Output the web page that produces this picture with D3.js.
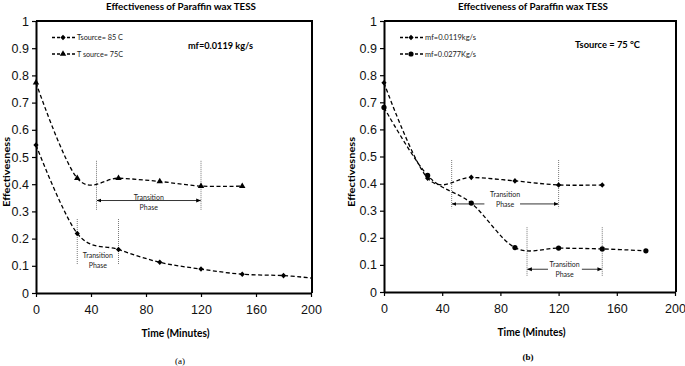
<!DOCTYPE html>
<html>
<head>
<meta charset="utf-8">
<script src="https://cdn.jsdelivr.net/npm/d3@7"></script>
<style>
  body { margin: 0; background: #fff; }
  svg { display: block; font-family: Lato, "Open Sans", sans-serif; }
</style>
</head>
<body>
<svg id="chart"></svg>
<script>
// ---- data ----
const xTicks = [0, 40, 80, 120, 160, 200];
const yTicks = [0, 0.1, 0.2, 0.3, 0.4, 0.5, 0.6, 0.7, 0.8, 0.9, 1];

// panel (a): mf = 0.0119 kg/s
const timeA85 = [0, 30, 60, 90, 120, 150, 180, 200];
const effA85 = [0.544, 0.219, 0.16, 0.113, 0.088, 0.069, 0.064, 0.055];
const timeA75 = [0, 30, 60, 90, 120, 150];
const effA75 = [0.773, 0.422, 0.422, 0.41, 0.393, 0.393];

// panel (b): Tsource = 75 °C
const timeB1 = [0, 30, 60, 90, 120, 150];
const effB1 = [0.772, 0.42, 0.423, 0.41, 0.395, 0.395];
const timeB2 = [0, 30, 60, 90, 120, 150, 180];
const effB2 = [0.681, 0.43, 0.328, 0.164, 0.162, 0.159, 0.152];

// transition phase annotations:
// [tStart, tEnd, yTop, yBottom, arrowY (or null), textY, gapStart, gapEnd]
const transA = [
    [44, 120, 0.486, 0.305, 0.34, 0.352, null, null],
    [30, 60, 0.272, 0.103, null, 0.137, null, null]
];
const transB = [
    [46.5, 120, 0.487, 0.309, 0.325, 0.358, 69, 93.5],
    [98.3, 150, 0.239, 0.059, 0.084, 0.102, 112.7, 136]
];

const svg = d3.select('#chart').attr('width', 685).attr('height', 366);
const root = svg.append('g').attr('opacity', 0.999);

const defs = svg.append('defs');
defs.append('marker')
    .attr('id', 'arrow-end')
    .attr('viewBox', '0 0 10 10')
    .attr('refX', 9).attr('refY', 5)
    .attr('markerWidth', 6).attr('markerHeight', 6)
    .attr('orient', 'auto')
    .append('path')
    .attr('d', 'M0,1L10,5L0,9Z')
    .attr('fill', '#000');

const curve = d3.curveCatmullRom.alpha(0);

function marker(g, shape, x, y) {
    if (shape === 'circle') {
        g.append('circle').attr('cx', x).attr('cy', y).attr('r', 2.6).attr('fill', '#000');
    } else if (shape === 'triangle') {
        g.append('path')
            .attr('transform', `translate(${x},${y})`)
            .attr('d', d3.symbol(d3.symbolTriangle, 18)())
            .attr('fill', '#000');
    } else {
        // small squat diamond like the Excel marker
        g.append('path')
            .attr('d', `M${x},${y - 2.8}L${x + 2.6},${y}L${x},${y + 2.8}L${x - 2.6},${y}Z`)
            .attr('fill', '#000');
    }
}

function arrowSeg(g, xa, xb, yy) {
    g.append('line')
        .attr('x1', xa).attr('x2', xb).attr('y1', yy).attr('y2', yy)
        .attr('stroke', '#000').attr('stroke-width', 0.8)
        .attr('marker-end', 'url(#arrow-end)');
}

function drawPanel(p) {
    const g = root.append('g');
    const x = d3.scaleLinear().domain([0, 200]).range([p.left, p.right]);
    const y = d3.scaleLinear().domain([0, 1]).range([p.bottom, p.top]);

    // frame top + right
    g.append('path')
        .attr('d', `M${p.left},${p.top}H${p.right + 1}V${p.bottom}`)
        .attr('fill', 'none').attr('stroke', '#000').attr('stroke-width', 2);

    const ax = g.append('g')
        .attr('transform', `translate(0,${p.bottom})`)
        .call(d3.axisBottom(x).tickValues(xTicks).tickSize(4).tickSizeOuter(0).tickPadding(8));
    const ay = g.append('g')
        .attr('transform', `translate(${p.left},0)`)
        .call(d3.axisLeft(y).tickValues(yTicks).tickSize(4).tickSizeOuter(0).tickPadding(3)
            .tickFormat(d => String(d)));
    [ax, ay].forEach(a => {
        a.select('.domain').attr('stroke-width', 2);
        a.selectAll('.tick line').attr('stroke-width', 1.2);
        a.selectAll('.tick text').attr('font-size', 12.5).attr('fill', '#111');
    });

    // transitions
    p.trans.forEach(([t0, t1, yTop, yBot, yArr, yTxt, g0, g1]) => {
        [t0, t1].forEach(t => {
            g.append('line')
                .attr('x1', x(t)).attr('x2', x(t))
                .attr('y1', y(yTop)).attr('y2', y(yBot))
                .attr('stroke', '#555').attr('stroke-width', 0.8)
                .attr('stroke-dasharray', '1,1');
        });
        if (yArr !== null) {
            const ya = y(yArr);
            const mid = (x(t0) + x(t1)) / 2;
            arrowSeg(g, g0 === null ? mid : x(g0), x(t0) + 0.5, ya);
            arrowSeg(g, g1 === null ? mid : x(g1), x(t1) - 0.5, ya);
        }
        const cx = (x(t0) + x(t1)) / 2;
        const ty = y(yTxt);
        const tg = g.append('g').attr('font-size', 7).attr('text-anchor', 'middle').attr('fill', '#222');
        tg.append('text').attr('x', cx).attr('y', ty + 2.5).text('Transition');
        tg.append('text').attr('x', cx).attr('y', ty + 12.5).text('Phase');
    });

    // series
    p.series.forEach(s => {
        const pts = s.time.map((t, i) => [x(t), y(s.eff[i])]);
        g.append('path')
            .attr('d', d3.line().curve(curve)(pts))
            .attr('fill', 'none').attr('stroke', '#000')
            .attr('stroke-width', 1.3).attr('stroke-dasharray', '4,2.5');
        pts.forEach((pt, i) => {
            if (s.time[i] <= s.lastMarker) marker(g, s.shape, pt[0], pt[1]);
        });
    });

    // legend
    p.series.forEach((s, i) => {
        const ly = p.legY + i * 16.5;
        g.append('line')
            .attr('x1', p.legX).attr('x2', p.legX + 23)
            .attr('y1', ly).attr('y2', ly)
            .attr('stroke', '#000').attr('stroke-width', 1.3).attr('stroke-dasharray', '3,2');
        marker(g, s.shape, p.legX + 11, ly);
        g.append('text')
            .attr('x', p.legX + 25).attr('y', ly + 2.5)
            .attr('font-size', 7.5).attr('fill', '#222')
            .attr('textLength', p.legW).attr('lengthAdjust', 'spacingAndGlyphs')
            .text(s.name);
    });

    // labels
    g.append('text')
        .attr('x', p.titleX).attr('y', 10)
        .attr('text-anchor', 'middle').attr('font-size', 10).attr('font-weight', 'bold')
        .attr('textLength', 150).attr('lengthAdjust', 'spacingAndGlyphs')
        .text('Effectiveness of Paraffin wax TESS');
    g.append('text')
        .attr('x', p.noteX).attr('y', p.noteY)
        .attr('font-size', 9.5).attr('font-weight', 'bold')
        .attr('textLength', 65).attr('lengthAdjust', 'spacingAndGlyphs')
        .text(p.note);
    g.append('text')
        .attr('transform', `translate(${p.yLabX},172) rotate(-90)`)
        .attr('text-anchor', 'middle').attr('font-size', 10).attr('font-weight', 'bold')
        .attr('textLength', 70).attr('lengthAdjust', 'spacingAndGlyphs')
        .text('Effectivesness');
    g.append('text')
        .attr('x', (p.left + p.right) / 2 + 2).attr('y', p.bottom + 44)
        .attr('text-anchor', 'middle').attr('font-size', 11).attr('font-weight', 'bold')
        .attr('textLength', 68).attr('lengthAdjust', 'spacingAndGlyphs')
        .text('Time (Minutes)');
    g.append('text')
        .attr('x', p.capX).attr('y', p.capY)
        .attr('text-anchor', 'middle').attr('font-size', 9)
        .attr('font-family', '"Liberation Serif", "DejaVu Serif", serif')
        .attr('font-weight', p.capBold ? 'bold' : 'normal')
        .text(p.caption);
}

drawPanel({
    left: 36, right: 311, top: 21, bottom: 293,
    titleX: 181, note: 'mf=0.0119 kg/s', noteX: 188, noteY: 49,
    yLabX: 10, capX: 180, capY: 364, caption: '(a)', capBold: false,
    legX: 52, legY: 37.5, legW: 46,
    trans: transA,
    series: [
        { name: 'Tsource= 85 C', time: timeA85, eff: effA85, shape: 'diamond', lastMarker: 180 },
        { name: 'T source= 75C', time: timeA75, eff: effA75, shape: 'triangle', lastMarker: 150 }
    ]
});

drawPanel({
    left: 384, right: 675, top: 21, bottom: 292,
    titleX: 533, note: 'Tsource = 75 °C', noteX: 575, noteY: 48,
    yLabX: 355, capX: 528, capY: 360, caption: '(b)', capBold: true,
    legX: 400, legY: 37.5, legW: 51,
    trans: transB,
    series: [
        { name: 'mf=0.0119kg/s', time: timeB1, eff: effB1, shape: 'diamond', lastMarker: 150 },
        { name: 'mf=0.0277Kg/s', time: timeB2, eff: effB2, shape: 'circle', lastMarker: 180 }
    ]
});
</script>
</body>
</html>
